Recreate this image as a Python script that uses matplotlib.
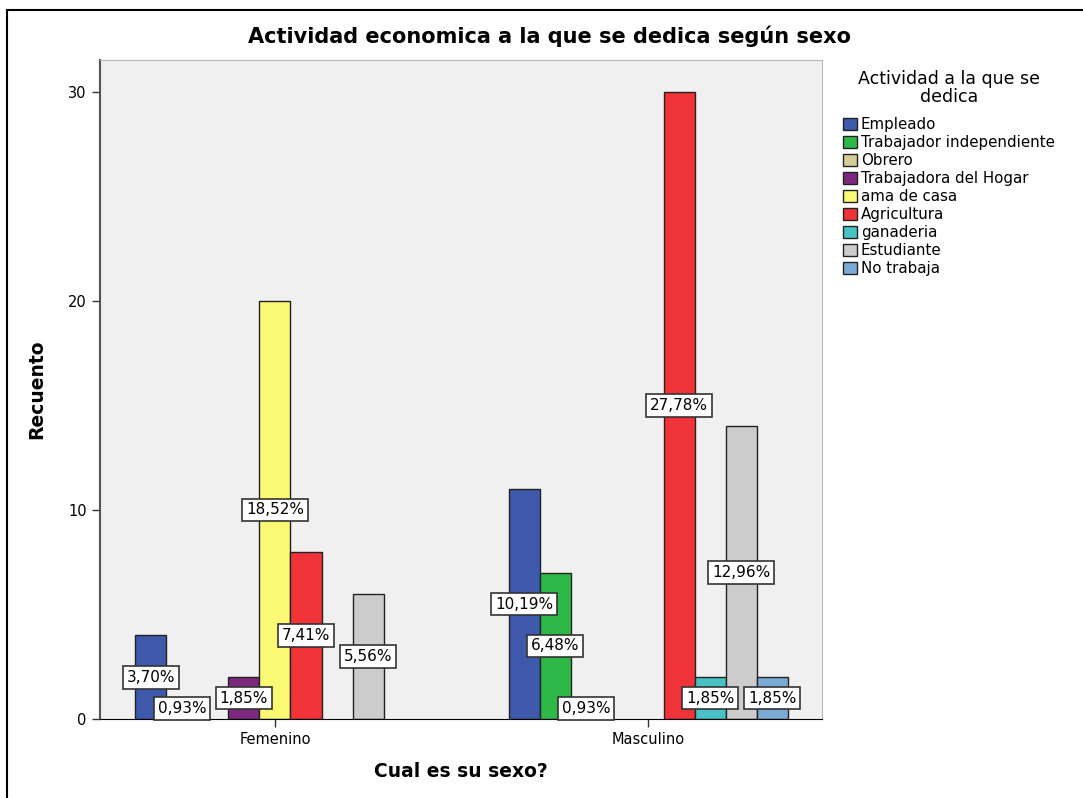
import matplotlib
matplotlib.use('Agg')
import matplotlib.pyplot as plt
from matplotlib.patches import Patch, Rectangle
import numpy as np

plt.rcParams['font.family'] = ['DejaVu Sans']

# datos
grupos = ['Femenino', 'Masculino']
actividades = ['Empleado', 'Trabajador independiente', 'Obrero', 'Trabajadora del Hogar',
               'ama de casa', 'Agricultura', 'ganaderia', 'Estudiante', 'No trabaja']
colores = ['#3E58AC', '#2EB848', '#D3CE97', '#7C287D', '#FBF873',
           '#EF3338', '#48C2C5', '#CCCCCC', '#7BAAD4']
femenino = [4, 1, 0, 2, 20, 8, 0, 6, 0]
masculino = [11, 7, 1, 0, 0, 30, 2, 14, 2]
total = sum(femenino) + sum(masculino)

fig = plt.figure(figsize=(10.83, 7.98), dpi=100)
ax = fig.add_axes([100/1083, 79/798, 722/1083, 659/798])
ax.set_facecolor('#F0F0F0')

w = 0.0831
for g, valores in enumerate([femenino, masculino]):
    for i, v in enumerate(valores):
        if v == 0:
            continue
        x = g + (i - 4) * w
        ax.bar(x, v, width=w, color=colores[i], edgecolor='#222222', linewidth=1, zorder=2)

# etiquetas de porcentaje
for g, valores in enumerate([femenino, masculino]):
    for i, v in enumerate(valores):
        if v == 0:
            continue
        x = g + (i - 4) * w
        pct = ('%.2f%%' % (100.0 * v / total)).replace('.', ',')
        ax.text(x, v / 2, pct, ha='center', va='center', fontsize=11, zorder=4,
                bbox=dict(boxstyle='square,pad=0.25', fc='white', ec='#333333', lw=1.2))

ax.set_xlim(-0.469, 1.466)
ax.set_ylim(0, 31.53)
ax.set_xticks([0, 1])
ax.set_xticklabels(grupos, fontsize=10.5)
ax.set_yticks([0, 10, 20, 30])
ax.tick_params(axis='both', direction='out', length=6, width=1, colors='#333333', labelcolor='black')
ax.tick_params(axis='y', labelsize=10.5)
for s in ['top', 'right']:
    ax.spines[s].set_color('#BBBBBB')
ax.spines['left'].set_color('#555555')
ax.spines['left'].set_linewidth(1.5)
ax.spines['bottom'].set_color('black')

ax.set_ylabel('Recuento', fontsize=13.5, fontweight='bold', labelpad=16)
ax.set_xlabel('Cual es su sexo?', fontsize=13.5, fontweight='bold', labelpad=11)
fig.text(550/1083, 1 - 36/798, 'Actividad economica a la que se dedica según sexo',
         ha='center', va='center', fontsize=15, fontweight='bold')

handles = [Patch(facecolor=c, edgecolor='#222222', linewidth=1) for c in colores]
leg = fig.legend(handles, actividades, loc='upper left', bbox_to_anchor=(843/1083, 1 - 70/798),
                 frameon=False, fontsize=10.8, title='Actividad a la que se\ndedica',
                 title_fontsize=12.5, handlelength=0.9, handleheight=0.9,
                 handletextpad=0.3, labelspacing=0.2, borderaxespad=0, borderpad=0)
leg.get_title().set_multialignment('center')
leg.get_title().set_linespacing(1.0)
leg._legend_box.sep = 8

# marco exterior
fig.patches.append(Rectangle((7/1083, -0.1), 1.1, 1.1 - 10/798, transform=fig.transFigure,
                             fill=False, ec='black', lw=1.5))

plt.savefig('out.png', dpi=100)
